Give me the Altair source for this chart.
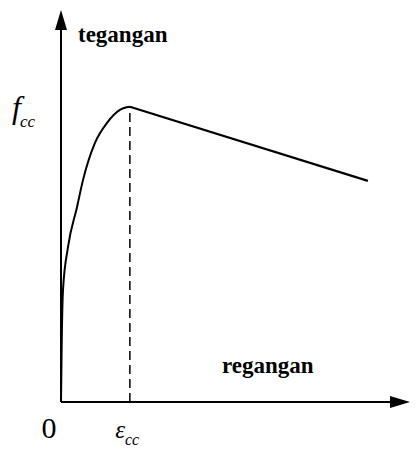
import altair as alt
import pandas as pd

# Stress-strain curve (arbitrary units: x = strain, y = stress)
curve_x = [0, 0.2, 0.56, 1.96, 4.48, 6.16, 9.52, 12.9, 16.5, 19.3]
curve_y = [0, 15.0, 28.6, 39.5, 49.7, 56.6, 66.1, 71.2, 74.5, 75.3]
soft_x = [19.3, 86.0]
soft_y = [75.3, 56.4]
peak_x = 19.3
peak_y = 75.3
x_max = 97.8
y_max = 100

xs = alt.Scale(domain=[0, x_max], nice=False, zero=False)
ys = alt.Scale(domain=[0, y_max], nice=False, zero=False)

def X(f="x"):
    return alt.X(f"{f}:Q", scale=xs, axis=None)

def Y(f="y"):
    return alt.Y(f"{f}:Q", scale=ys, axis=None)

curve_df = pd.DataFrame({"x": curve_x, "y": curve_y})
soft_df = pd.DataFrame({"x": soft_x, "y": soft_y})

curve = alt.Chart(curve_df).mark_line(color="black", strokeWidth=2, interpolate="monotone").encode(
    x=X(), y=Y(), order="x:Q")
soft = alt.Chart(soft_df).mark_line(color="black", strokeWidth=2.2).encode(x=X(), y=Y())

dash_df = pd.DataFrame({"x": [peak_x], "y": [0], "y2": [peak_y]})
dash = alt.Chart(dash_df).mark_rule(color="black", strokeWidth=1.5, strokeDash=[9, 5]).encode(
    x=X(), y=Y(), y2="y2:Q")

axes_df = pd.DataFrame({"x": [0, 0], "y": [0, 0], "x2": [x_max - 2, 0], "y2": [0, y_max - 2]})
axes = alt.Chart(axes_df).mark_rule(color="black", strokeWidth=2).encode(
    x=X(), y=Y(), x2="x2:Q", y2="y2:Q")

arrow_up = "M0,0L0.6,2L-0.6,2Z"
arrow_right = "M0,0L-2,-0.6L-2,0.6Z"
arr_df = pd.DataFrame({"x": [0, x_max], "y": [y_max, 0], "dir": ["up", "right"]})
arrows = alt.Chart(arr_df).mark_point(filled=True, color="black", opacity=1, size=400, strokeWidth=0).encode(
    x=X(), y=Y(),
    shape=alt.Shape("dir:N", scale=alt.Scale(domain=["up", "right"], range=[arrow_up, arrow_right]), legend=None))

def label(text, x, y, size, weight="normal", style="normal", align="left", font="Liberation Serif"):
    return alt.Chart(pd.DataFrame({"t": [text]})).mark_text(
        font=font, fontSize=size, fontWeight=weight, fontStyle=style, align=align,
        baseline="alphabetic", color="black").encode(
        x=alt.value(x), y=alt.value(y), text="t:N")

labels = [
    label("tegangan", 17, 32, 23, weight="bold"),
    label("regangan", 161, 363, 23, weight="bold"),
    label("0", -12, 428, 30, align="center"),
    label("ε", 64, 428, 25, style="italic", align="right"),
    label("cc", 64, 435, 16, style="italic"),
    label("f", -49, 108, 32, style="italic"),
    label("cc", -41, 117, 17, style="italic"),
]

chart = alt.layer(axes, arrows, dash, curve, soft, *labels).properties(
    width=349, height=392,
    autosize=alt.AutoSizeParams(type="none"),
    padding={"left": 53, "top": 2, "right": 0, "bottom": 45},
).configure_view(stroke=None)

chart.save("out.html", embed_options={"renderer": "svg", "actions": False})
